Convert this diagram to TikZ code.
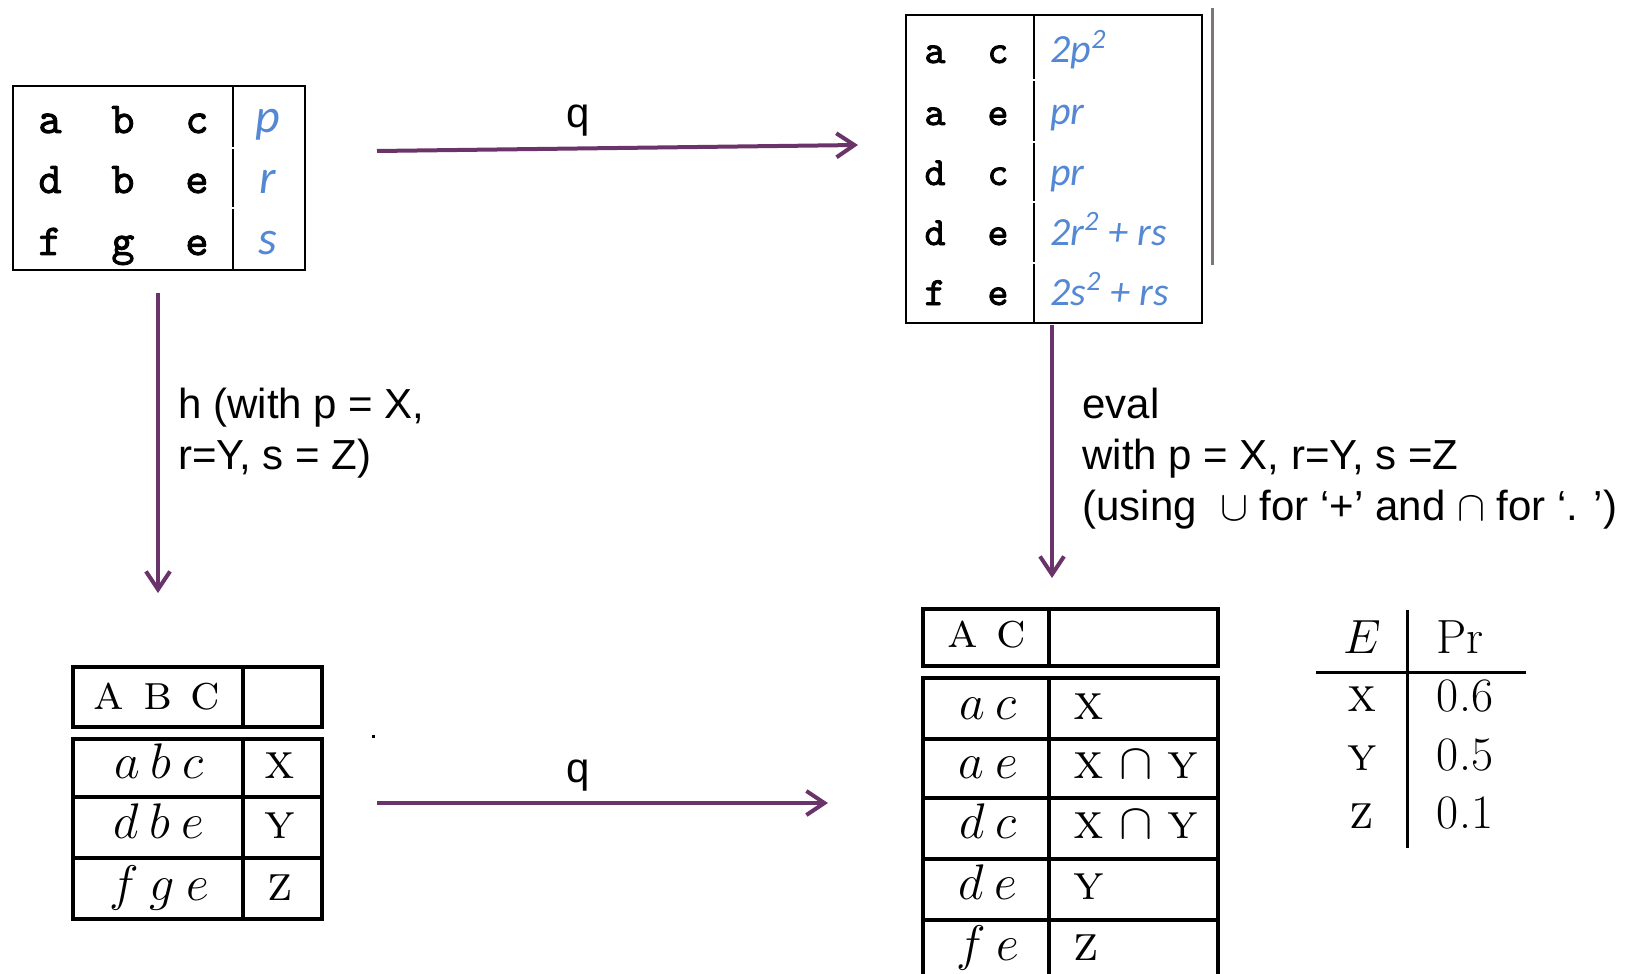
\RequirePackage{fix-cm}
\documentclass[tikz,border=0pt]{standalone}
\usepackage{fontspec}
\usetikzlibrary{arrows.meta}
\newfontfamily\arialf{Liberation Sans}
\newfontfamily\carlf{Carlito}
\newfontfamily\monof{lmmono10-regular.otf}[FakeBold=2]
\definecolor{arrowc}{RGB}{106,52,106}
\definecolor{bluet}{RGB}{84,136,212}
\definecolor{grayl}{RGB}{125,118,118}
\begin{document}
\begin{tikzpicture}[x=0.5pt,y=-0.5pt,
  arr/.style={draw=arrowc, line width=2pt, -{Straight Barb[length=9pt,width=12pt]}},
  lbl/.style={font=\arialf\fontsize{21}{26}\selectfont, anchor=base west, inner sep=0pt},
  qlbl/.style={font=\arialf\fontsize{21}{26}\selectfont, anchor=base, inner sep=0pt},
  monoA/.style={font=\monof\fontsize{22}{26}\selectfont, anchor=base, inner sep=0pt},
  monoB/.style={font=\monof\fontsize{20}{24}\selectfont, anchor=base, inner sep=0pt},
  blueA/.style={font=\carlf\itshape\fontsize{24}{28}\selectfont, text=bluet, anchor=base, inner sep=0pt},
  blueB/.style={font=\carlf\itshape\fontsize{20}{24}\selectfont, text=bluet, anchor=base west, inner sep=0pt},
  cmc/.style={font=\fontsize{25}{30}\selectfont, anchor=base, inner sep=0pt},
  cmw/.style={font=\fontsize{25}{30}\selectfont, anchor=base west, inner sep=0pt},
  cme/.style={font=\fontsize{24}{29}\selectfont, anchor=base, inner sep=0pt},
  thinrule/.style={line width=1.2pt},
  thickrule/.style={line width=2pt},
  midrule/.style={line width=1.5pt}
]
\path[use as bounding box] (0,0) rectangle (1629,974);

% ---------- Table 1 (top left) ----------
\draw[thinrule] (13,86) rectangle (305,270);
\draw[thinrule] (233,86) -- (233,147) (233,149) -- (233,207) (233,209) -- (233,270);
\node[monoA] (t1a1) at (50,133) {a};
\node[monoA] (t1b1) at (123,133) {b};
\node[monoA] (t1c1) at (197,133) {c};
\node[blueA] (t1p)  at (268,133) {p};
\node[monoA] (t1a2) at (50,193) {d};
\node[monoA] (t1b2) at (123,193) {b};
\node[monoA] (t1c2) at (197,193) {e};
\node[blueA] (t1r)  at (268,193) {r};
\node[monoA] (t1a3) at (50,255) {f};
\node[monoA] (t1b3) at (123,255) {g};
\node[monoA] (t1c3) at (197,255) {e};
\node[blueA] (t1s)  at (268,255) {s};

% ---------- Table 2 (top right) ----------
\draw[thinrule] (906,15) rectangle (1202,323);
\draw[thinrule] (1034,15) -- (1034,79) (1034,81) -- (1034,141) (1034,143) -- (1034,201)
  (1034,203) -- (1034,262) (1034,264) -- (1034,323);
\draw[grayl, line width=1.5pt] (1212,8) -- (1212,265);
\node[monoB] (t2a1) at (935,63) {a};  \node[monoB] (t2b1) at (998,63) {c};
\node[blueB] (t2v1) at (1050,63) {2p\textsuperscript{2}};
\node[monoB] (t2a2) at (935,125) {a}; \node[monoB] (t2b2) at (998,125) {e};
\node[blueB] (t2v2) at (1050,125) {pr};
\node[monoB] (t2a3) at (935,185) {d}; \node[monoB] (t2b3) at (998,185) {c};
\node[blueB] (t2v3) at (1050,185) {pr};
\node[monoB] (t2a4) at (935,245) {d}; \node[monoB] (t2b4) at (998,245) {e};
\node[blueB] (t2v4) at (1050,245) {2r\textsuperscript{2} + rs};
\node[monoB] (t2a5) at (935,305) {f}; \node[monoB] (t2b5) at (998,305) {e};
\node[blueB] (t2v5) at (1050,305) {2s\textsuperscript{2} + rs};

% ---------- Table 3 (bottom left) ----------
\draw[thickrule] (73,667) rectangle (322,727);
\draw[thickrule] (243,667) -- (243,727);
\draw[thickrule] (73,739) rectangle (322,919);
\draw[thickrule] (73,797) -- (322,797) (73,858) -- (322,858) (243,739) -- (243,919);
\node[cmc] (t3h) at (157,709) {\textsc{a b c}};
\node[cmc] (t3r1) at (159,778) {$a\:b\:c$};
\node[cmc] (t3x) at (280,778) {\textsc{x}};
\node[cmc] (t3r2) at (159,838) {$d\:b\:e$};
\node[cmc] (t3y) at (280,838) {\textsc{y}};
\node[cmc] (t3r3) at (159,900) {$f\:g\:e$};
\node[cmc] (t3z) at (280,900) {\textsc{z}};

% ---------- Table 4 (bottom right) ----------
\draw[thickrule] (923,609) rectangle (1218,666);
\draw[thickrule] (1049,609) -- (1049,666);
\draw[thickrule] (923,678) rectangle (1218,990);
\draw[thickrule] (923,739) -- (1218,739) (923,798) -- (1218,798) (923,859) -- (1218,859)
  (923,920) -- (1218,920) (1049,678) -- (1049,990);
\node[cmc] (t4h) at (987,647) {\textsc{a c}};
\node[cmc] (t4l1) at (988,719) {$a\:c$};
\node[cmw] (t4v1) at (1073,719) {\textsc{x}};
\node[cmc] (t4l2) at (988,778) {$a\:e$};
\node[cmw] (t4v2) at (1073,778) {\textsc{x} $\cap$ \textsc{y}};
\node[cmc] (t4l3) at (988,838) {$d\:c$};
\node[cmw] (t4v3) at (1073,838) {\textsc{x} $\cap$ \textsc{y}};
\node[cmc] (t4l4) at (988,899) {$d\:e$};
\node[cmw] (t4v4) at (1073,899) {\textsc{y}};
\node[cmc] (t4l5) at (988,960) {$f\:e$};
\node[cmw] (t4v5) at (1073,960) {\textsc{z}};

% ---------- Table 5 (probabilities) ----------
\draw[midrule] (1407,610) -- (1407,848);
\draw[midrule] (1316,672) -- (1526,672);
\node[cme] (t5E) at (1362,653) {$E$};
\node[cme] (t5P) at (1460,653) {Pr};
\node[cme] (t5x) at (1362,711) {\textsc{x}};
\node[cme] (t5a) at (1465,711) {0.6};
\node[cme] (t5y) at (1362,770) {\textsc{y}};
\node[cme] (t5b) at (1465,770) {0.5};
\node[cme] (t5z) at (1362,828) {\textsc{z}};
\node[cme] (t5c) at (1465,828) {0.1};

% ---------- Arrows ----------
\coordinate (q1s) at (377,151);
\coordinate (q1e) at (858,145);
\coordinate (q2s) at (377,803);
\coordinate (q2e) at (828,803);
\coordinate (hs) at (158,293);
\coordinate (he) at (158,593);
\coordinate (es) at (1052,325);
\coordinate (ee) at (1052,578);
\draw[arr] (q1s) -- (q1e);
\draw[arr] (q2s) -- (q2e);
\draw[arr] (hs) -- (he);
\draw[arr] (es) -- (ee);
\fill (372,735) rectangle (375,738);

% ---------- Labels ----------
\node[qlbl] (lq1) at (578,128) {q};
\node[qlbl] (lq2) at (578,782) {q};
\node[lbl] (lh1) at (178,418) {h (with p = X,};
\node[lbl] (lh2) at (178,469) {r=Y, s = Z)};
\node[lbl] (le1) at (1082,418) {eval};
\node[lbl] (le2) at (1082,469) {with p = X, r=Y, s =Z};
\node[lbl] (le3) at (1082,520) {(using \ $\cup$ for ‘+’ and $\cap$ for ‘. ’)};
\end{tikzpicture}
\end{document}
